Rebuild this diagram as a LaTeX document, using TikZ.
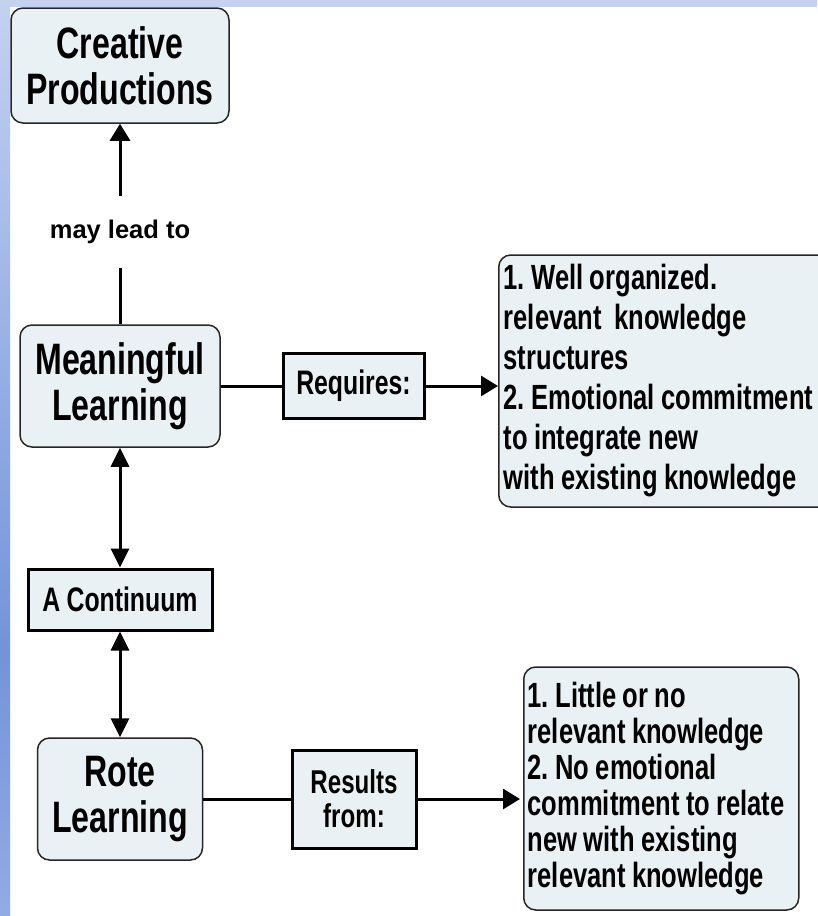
\documentclass[tikz,border=0pt]{standalone}
\usepackage{fontspec}
\setmainfont{Liberation Sans}[FakeStretch=0.73,WordSpace=0.9]
\newfontfamily\plainfont{Liberation Sans}
\usepackage{xcolor}
\usetikzlibrary{arrows.meta}
\definecolor{boxfill}{RGB}{233,241,244}
\definecolor{bandtop}{RGB}{196,210,240}
\definecolor{bandmid}{RGB}{116,147,216}
\definecolor{bandlow}{RGB}{148,171,226}
\frenchspacing
\tikzset{
  concept/.style={draw=black!85, line width=1.5pt, rounded corners=12pt, fill=boxfill,
    align=center, inner sep=0pt, font=\bfseries\fontsize{44}{46}\selectfont},
  linkbox/.style={draw, line width=3pt, fill=boxfill, align=center, inner sep=0pt,
    font=\bfseries\fontsize{34}{35}\selectfont},
  notebox/.style={concept, align=flush left, anchor=west, inner ysep=0pt},
  conn/.style={line width=3pt},
  arr/.style={conn, -{Triangle[length=17pt,width=20pt]}},
  arrboth/.style={conn, {Triangle[length=19pt,width=18pt]}-{Triangle[length=19pt,width=18pt]}},
}
\begin{document}
\begin{tikzpicture}[x=1pt,y=-1pt]
\useasboundingbox (0,0) rectangle (817,916);
% blue bands
\fill[bandtop] (0,0) rectangle (817,7);
\shade[top color=bandtop, bottom color=bandmid] (0,0) rectangle (10,650);
\shade[top color=bandmid, bottom color=bandlow] (0,650) rectangle (10,916);

\node[concept, minimum width=218, minimum height=115] (cp) at (120,65.5) {Creative\\Productions};
\node[font=\plainfont\bfseries\fontsize{25.5}{27}\selectfont, inner sep=0pt, minimum height=71] (lead) at (120,232) {may lead to};
\node[concept, minimum width=200, minimum height=122] (ml) at (120,386) {Meaningful\\Learning};
\node[linkbox, minimum width=141, minimum height=65] (req) at (353.5,386) {Requires:};
\node[notebox, text width=330, inner xsep=5pt, minimum height=252,
  font=\bfseries\fontsize{35}{40}\selectfont] (kw) at (498,381)
  {1. Well organized.\\relevant\ \ knowledge\\structures\\2. Emotional commitment\\to integrate new\\with existing knowledge};
\node[linkbox, minimum width=184, minimum height=61] (cont) at (120,599.5) {A Continuum};
\node[concept, minimum width=165, minimum height=122] (rl) at (120,799) {Rote\\Learning};
\node[linkbox, minimum width=124, minimum height=98, font=\bfseries\fontsize{33}{34}\selectfont] (res) at (354,799) {Results\\from:};
\node[notebox, text width=267, inner xsep=4pt, minimum height=243,
  font=\bfseries\fontsize{35}{36}\selectfont] (nk) at (523,788.5)
  {1. Little or no\\relevant knowledge\\2. No emotional\\commitment to relate\\new with existing\\relevant knowledge};

\draw[conn] (ml.north) -- (lead.south);
\draw[arr] (lead.north) -- (cp.south);
\draw[conn] (ml.east) -- (req.west);
\draw[arr] (req.east) -- (req.east -| kw.west);
\draw[arrboth] (ml.south) -- (cont.north);
\draw[arrboth] (cont.south) -- (rl.north);
\draw[conn] (rl.east) -- (res.west);
\draw[arr, shorten >=3pt] (res.east) -- (res.east -| nk.west);
\end{tikzpicture}
\end{document}
